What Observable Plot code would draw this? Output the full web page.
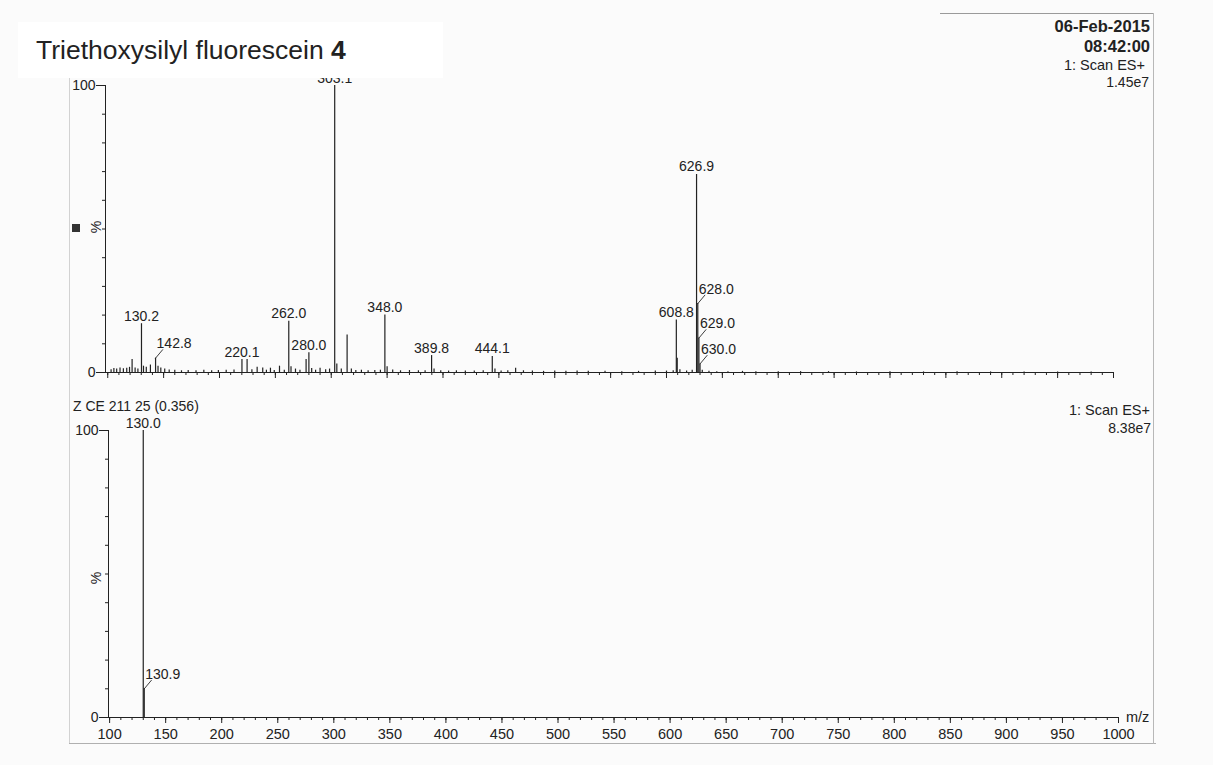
<!DOCTYPE html>
<html><head><meta charset="utf-8">
<script src="https://cdn.jsdelivr.net/npm/d3@7"></script>
<script src="https://cdn.jsdelivr.net/npm/@observablehq/plot@0.6"></script>
<style>
body{margin:0;background:#fbfbfb;font-family:Arial,"Liberation Sans",sans-serif;color:#222}
#page{position:relative;width:1213px;height:765px;overflow:hidden}
.t{position:absolute;white-space:nowrap;line-height:1}
.ln{position:absolute;background:#bdbdbd}
</style></head><body><div id="page"></div>
<script>
// ---------- data ----------
const topMz = [103.0,105.5,108.0,111.0,114.0,117.0,119.5,121.8,124.5,127.0,130.2,132.0,134.5,138.2,142.8,145.0,147.5,151.0,155.0,160.0,166.0,172.0,179.0,186.0,193.0,199.0,206.0,213.0,220.1,224.7,229.0,233.7,238.7,242.0,245.6,249.0,253.7,258.0,262.0,264.0,268.0,272.0,277.5,280.0,282.5,286.0,290.0,295.0,298.5,303.1,305.0,309.0,314.2,318.0,322.0,327.0,333.0,339.0,344.0,348.0,350.0,355.0,362.0,370.0,378.0,384.0,389.8,392.0,398.0,405.0,412.0,420.0,428.0,436.0,444.1,446.5,452.0,458.0,465.0,472.0,480.0,490.0,500.0,510.0,520.0,530.0,545.0,560.0,575.0,590.0,600.0,606.0,608.8,609.6,612.0,618.0,623.0,626.9,628.0,629.0,630.0,632.0,638.0,645.0,655.0,668.0,680.0,700.0,720.0,745.0,770.0,800.0,830.0,860.0,890.0,920.0,950.0,980.0];
const topInt = [1.0,1.4,1.2,1.6,1.3,1.5,1.8,4.5,1.6,1.2,17.0,2.2,1.8,2.6,5.0,2.2,1.6,1.2,0.9,0.8,0.6,0.7,0.6,0.8,0.6,0.7,0.8,0.9,4.5,4.5,1.0,1.8,1.6,0.8,1.5,0.7,2.2,0.8,17.9,2.0,1.2,0.8,4.5,6.9,1.4,0.8,1.5,1.0,1.2,100,3.0,1.2,13.1,1.2,0.7,0.8,0.6,0.7,0.8,20.0,2.0,0.9,0.6,0.7,0.6,0.6,5.9,1.2,0.6,0.5,0.6,0.5,0.5,0.6,5.6,1.2,0.5,0.6,1.5,0.6,0.5,0.4,0.5,0.4,0.5,0.4,0.4,0.3,0.4,0.5,0.5,0.6,18.3,5.0,1.0,0.5,0.8,69.0,24.0,12.0,3.0,0.8,0.4,0.3,0.3,0.4,0.3,0.3,0.3,0.3,0.2,0.3,0.2,0.3,0.2,0.2,0.2,0.2];
const topLabels = [130.2, 220.1, 262.0, 280.0, 303.1, 348.0, 389.8, 444.1, 608.8, 626.9];
const topLeaderLabels = [142.8, 628.0, 629.0, 630.0];
const botMz = [130.0, 130.9];
const botInt = [100, 10];
const botLabels = [130.0];
const botLeaderLabels = [130.9];
const xTickLabels = [100,150,200,250,300,350,400,450,500,550,600,650,700,750,800,850,900,950,1000];
const yTickLabels = [0, 100];

// ---------- drawing ----------
const ink = "#222";
const fmt = d3.format(".1f");
const FONT = "Arial, 'Liberation Sans', sans-serif";
const leaderShape = {draw(context, l) { context.moveTo(0, 0); context.lineTo(0, -l); }};

function panel({mz, inten, labels, leaders, xDomain, marginLeft, marginRight, marginTop, marginBottom, showXLabels}) {
  const peaks = mz.map((m, i) => ({mz: m, i: inten[i]}));
  const lab = peaks.filter(p => labels.includes(p.mz));
  const led = peaks.filter(p => leaders.includes(p.mz));
  return Plot.plot({
    width: 1213, height: 765,
    marginLeft, marginRight, marginTop, marginBottom,
    x: {domain: xDomain, label: null},
    y: {domain: [0, 100], label: null},
    style: {fontFamily: FONT, fontSize: "14px", background: "transparent", position: "absolute", left: "0px", top: "0px", color: ink, overflow: "visible"},
    marks: [
      Plot.axisY({ticks: d3.range(0, 101, 10), tickSize: 3, tickFormat: () => "", color: ink}),
      Plot.axisY({ticks: yTickLabels, tickSize: 9, tickPadding: 1, fontSize: 14, color: ink}),
      Plot.axisX({ticks: d3.range(100, 1001, 10), tickSize: 3, tickFormat: () => "", color: ink}),
      Plot.axisX({ticks: xTickLabels, tickSize: 6, tickPadding: 5, fontSize: 14.5, color: ink,
                  tickFormat: showXLabels ? (d => String(d)) : (() => "")}),
      Plot.ruleY([0], {stroke: ink, strokeWidth: 1.1}),
      Plot.ruleX([xDomain[0]], {y1: 0, y2: 100, stroke: ink, strokeWidth: 1}),
      Plot.ruleX(peaks, {x: "mz", y1: 0, y2: "i", stroke: ink, strokeWidth: 1.2}),
      Plot.text(lab, {x: "mz", y: "i", text: d => fmt(d.mz), lineAnchor: "bottom", dy: -3, fontSize: 14, fill: ink}),
      Plot.vector(led, {x: "mz", y: "i", length: 11, rotate: 40, anchor: "start", shape: leaderShape, stroke: ink, strokeWidth: 0.8}),
      Plot.text(led, {x: "mz", y: "i", text: d => fmt(d.mz), textAnchor: "start", lineAnchor: "bottom", dx: 1, dy: -10, fontSize: 14, fill: ink})
    ]
  });
}

const page = document.getElementById("page");

// faint scan-page borders
function line(l, t, w, h, c) { const d = document.createElement("div"); d.className = "ln"; Object.assign(d.style, {left: l + "px", top: t + "px", width: w + "px", height: h + "px"}); if (c) d.style.background = c; page.appendChild(d); }
line(69, 62, 1, 682, "#d2d2d2");
line(69, 743, 1087, 1, "#b0b0b0");
line(1153, 13, 1, 731, "#b8b8b8");
line(940, 13, 213, 1, "#9a9a9a");

page.appendChild(panel({mz: botMz, inten: botInt, labels: botLabels, leaders: botLeaderLabels,
  xDomain: [99, 1000], marginLeft: 108, marginRight: 95, marginTop: 430, marginBottom: 48, showXLabels: true}));
page.appendChild(panel({mz: topMz, inten: topInt, labels: topLabels, leaders: topLeaderLabels,
  xDomain: [98, 1000], marginLeft: 105, marginRight: 100, marginTop: 85, marginBottom: 393, showXLabels: false}));

// text helper: baseline-positioned
function txt(s, {left, right, baseline, size, weight, html}) {
  const d = document.createElement("div");
  d.className = "t";
  if (html) d.innerHTML = s; else d.textContent = s;
  d.style.fontSize = size + "px";
  if (weight) d.style.fontWeight = weight;
  d.style.top = (baseline - 0.8465 * size) + "px";
  if (left != null) d.style.left = left + "px";
  if (right != null) d.style.right = (1213 - right) + "px";
  page.appendChild(d);
  return d;
}
function rotTxt(s, cx, cy, size) {
  const d = document.createElement("div");
  d.className = "t"; d.textContent = s; d.style.fontSize = size + "px";
  d.style.left = cx + "px"; d.style.top = cy + "px";
  d.style.transform = "translate(-50%,-50%) rotate(-90deg)";
  page.appendChild(d);
}

// header, right side
txt("06-Feb-2015", {right: 1150, baseline: 31.7, size: 16.5, weight: "bold"});
txt("08:42:00", {right: 1150, baseline: 51.7, size: 16.5, weight: "bold"});
txt("1: Scan ES+", {right: 1145, baseline: 70, size: 14.5});
txt("1.45e7", {right: 1149, baseline: 87.3, size: 14});
txt("1: Scan ES+", {right: 1150, baseline: 415, size: 14.5});
txt("8.38e7", {right: 1151, baseline: 433.3, size: 14});
txt("Z CE 211 25 (0.356)", {left: 73, baseline: 410.7, size: 14});
txt("m/z", {left: 1126, baseline: 722, size: 14.5});
rotTxt("%", 96, 227, 14);
rotTxt("%", 96, 578, 14);
const sq = document.createElement("div");
Object.assign(sq.style, {position: "absolute", left: "72px", top: "224px", width: "8px", height: "8px", background: "#333"});
page.appendChild(sq);

// title box (covers top of the spectrum, as in the reference)
const box = document.createElement("div");
Object.assign(box.style, {position: "absolute", left: "18px", top: "22px", width: "425px", height: "56px", background: "#ffffff"});
page.appendChild(box);
txt("Triethoxysilyl fluorescein <b>4</b>", {left: 36, baseline: 59.3, size: 26.5, html: true});
</script></body></html>
